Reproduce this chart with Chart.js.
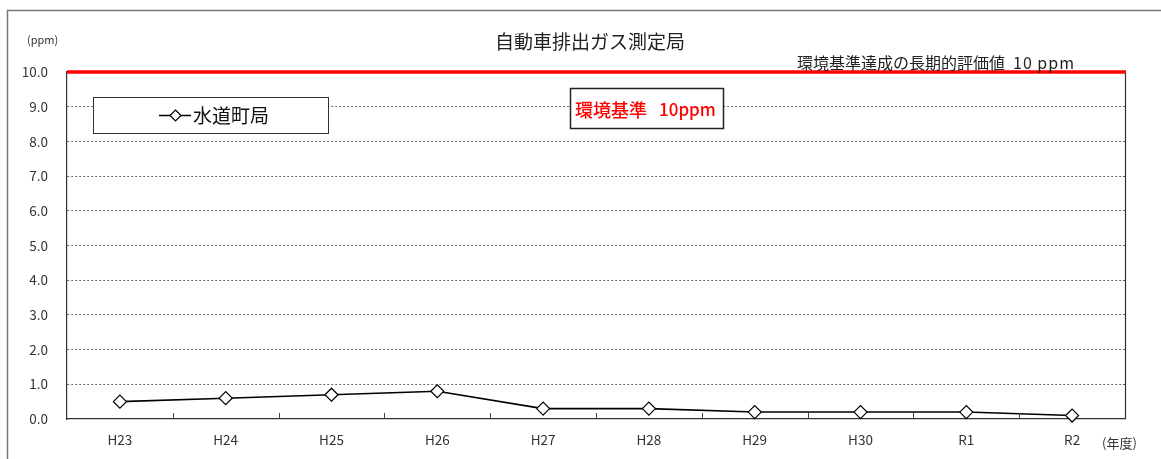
<!DOCTYPE html>
<html>
<head>
<meta charset="utf-8">
<script src="https://cdn.jsdelivr.net/npm/chart.js@4/dist/chart.umd.min.js"></script>
<style>
  html, body { margin: 0; padding: 0; background: #fff; }
  #wrap { width: 1161px; height: 459px; }
</style>
</head>
<body>
<div id="wrap"><canvas id="c" width="1161" height="459"></canvas></div>
<script>
const years = ['H23', 'H24', 'H25', 'H26', 'H27', 'H28', 'H29', 'H30', 'R1', 'R2'];
const suidoucho = [0.5, 0.6, 0.7, 0.8, 0.3, 0.3, 0.2, 0.2, 0.2, 0.1];
const standard = 10;
const yTicks = [0, 1, 2, 3, 4, 5, 6, 7, 8, 9, 10];

const FONT = '"Noto Sans CJK JP", "Noto Sans", sans-serif';

// frame, red standard line, boxes and extra texts
const decor = {
  id: 'decor',
  beforeDraw(chart) {
    const ctx = chart.ctx;
    ctx.save();
    ctx.fillStyle = '#fff';
    ctx.fillRect(0, 0, chart.width, chart.height);
    ctx.strokeStyle = '#777';
    ctx.lineWidth = 1.5;
    ctx.beginPath();
    ctx.moveTo(7.5, chart.height);
    ctx.lineTo(7.5, 10.5);
    ctx.lineTo(chart.width, 10.5);
    ctx.stroke();
    ctx.restore();
  },
  afterDatasetsDraw(chart) {
    const { ctx, chartArea: a, scales: { x, y } } = chart;
    ctx.save();

    // x tick marks between categories, pointing up into the plot
    ctx.strokeStyle = '#444';
    ctx.lineWidth = 1;
    ctx.beginPath();
    for (let i = 1; i < years.length; i++) {
      const px = Math.round((x.getPixelForValue(i - 1) + x.getPixelForValue(i)) / 2) + 0.5;
      ctx.moveTo(px, a.bottom);
      ctx.lineTo(px, a.bottom - 6);
    }
    ctx.stroke();

    // right border
    ctx.strokeStyle = '#333';
    ctx.lineWidth = 1.2;
    ctx.beginPath();
    ctx.moveTo(a.right + 0.5, a.top);
    ctx.lineTo(a.right + 0.5, a.bottom);
    ctx.stroke();

    // environmental standard line
    const ys = y.getPixelForValue(standard);
    ctx.strokeStyle = '#ff0000';
    ctx.lineWidth = 3.5;
    ctx.beginPath();
    ctx.moveTo(a.left, ys);
    ctx.lineTo(a.right + 1, ys);
    ctx.stroke();

    // legend box
    ctx.fillStyle = '#fff';
    ctx.fillRect(93, 97, 235, 36);
    ctx.strokeStyle = '#333';
    ctx.lineWidth = 1;
    ctx.strokeRect(93.5, 97.5, 235, 36);
    ctx.strokeStyle = '#000';
    ctx.lineWidth = 1.5;
    ctx.beginPath();
    ctx.moveTo(159, 115.5);
    ctx.lineTo(191, 115.5);
    ctx.stroke();
    ctx.beginPath();
    ctx.moveTo(175.5, 110);
    ctx.lineTo(181, 115.5);
    ctx.lineTo(175.5, 121);
    ctx.lineTo(170, 115.5);
    ctx.closePath();
    ctx.fillStyle = '#fff';
    ctx.fill();
    ctx.lineWidth = 1.2;
    ctx.stroke();
    ctx.fillStyle = '#111';
    ctx.font = '19px ' + FONT;
    ctx.textAlign = 'left';
    ctx.textBaseline = 'middle';
    ctx.fillText('水道町局', 193, 116);

    // standard annotation box
    ctx.fillStyle = '#fff';
    ctx.fillRect(570, 88, 154, 41);
    ctx.strokeStyle = '#222';
    ctx.lineWidth = 1.5;
    ctx.strokeRect(570.5, 88.5, 153, 40);
    ctx.fillStyle = '#ff0000';
    ctx.font = '500 18px ' + FONT;
    ctx.fillText('環境基準', 575, 110);
    ctx.font = '500 17px ' + FONT;
    ctx.fillText('10ppm', 659, 110);

    // texts
    ctx.fillStyle = '#222';
    ctx.font = '19px ' + FONT;
    ctx.textAlign = 'center';
    ctx.fillText('自動車排出ガス測定局', 590, 42);
    ctx.textAlign = 'left';
    ctx.font = '16px ' + FONT;
    ctx.fillText('環境基準達成の長期的評価値', 797, 63);
    ctx.letterSpacing = '1px';
    ctx.fillText('10 ppm', 1013, 63);
    ctx.letterSpacing = '0px';
    ctx.font = '11px ' + FONT;
    ctx.fillStyle = '#333';
    ctx.fillText('(ppm)', 27, 40);
    ctx.font = '13px ' + FONT;
    ctx.fillText('(年度)', 1102, 443);
    ctx.restore();
  }
};

new Chart(document.getElementById('c'), {
  type: 'line',
  data: {
    labels: years,
    datasets: [{
      label: '水道町局',
      data: suidoucho,
      borderColor: '#000',
      borderWidth: 1.6,
      pointStyle: 'rectRot',
      pointRadius: 6.5,
      pointBackgroundColor: '#fff',
      pointBorderColor: '#000',
      pointBorderWidth: 1.2,
      tension: 0,
      clip: false
    }]
  },
  options: {
    responsive: false,
    animation: false,
    layout: { padding: { left: 8, right: 36, top: 72, bottom: 0 } },
    plugins: { legend: { display: false }, tooltip: { enabled: false } },
    scales: {
      x: {
        offset: true,
        grid: { display: false, drawTicks: false },
        border: { display: true, color: '#333', width: 1.2 },
        ticks: { color: '#333', font: { family: FONT, size: 13.5 }, padding: 13, maxRotation: 0, autoSkip: false },
        afterFit(s) { s.height = 40; }
      },
      y: {
        min: 0,
        max: 10,
        afterBuildTicks(s) { s.ticks = yTicks.map(v => ({ value: v })); },
        grid: {
          drawTicks: false,
          color: ctx => (ctx.tick && (ctx.tick.value === 0 || ctx.tick.value === standard)) ? 'rgba(0,0,0,0)' : '#444',
          lineWidth: 0.8
        },
        border: { display: true, color: '#333', width: 1.2, dash: [2, 2] },
        ticks: {
          color: '#333',
          font: { family: FONT, size: 13.5 },
          padding: 19,
          callback: v => Number(v).toFixed(1)
        },
        afterFit(s) { s.width = 59; }
      }
    }
  },
  plugins: [decor]
});
</script>
</body>
</html>
